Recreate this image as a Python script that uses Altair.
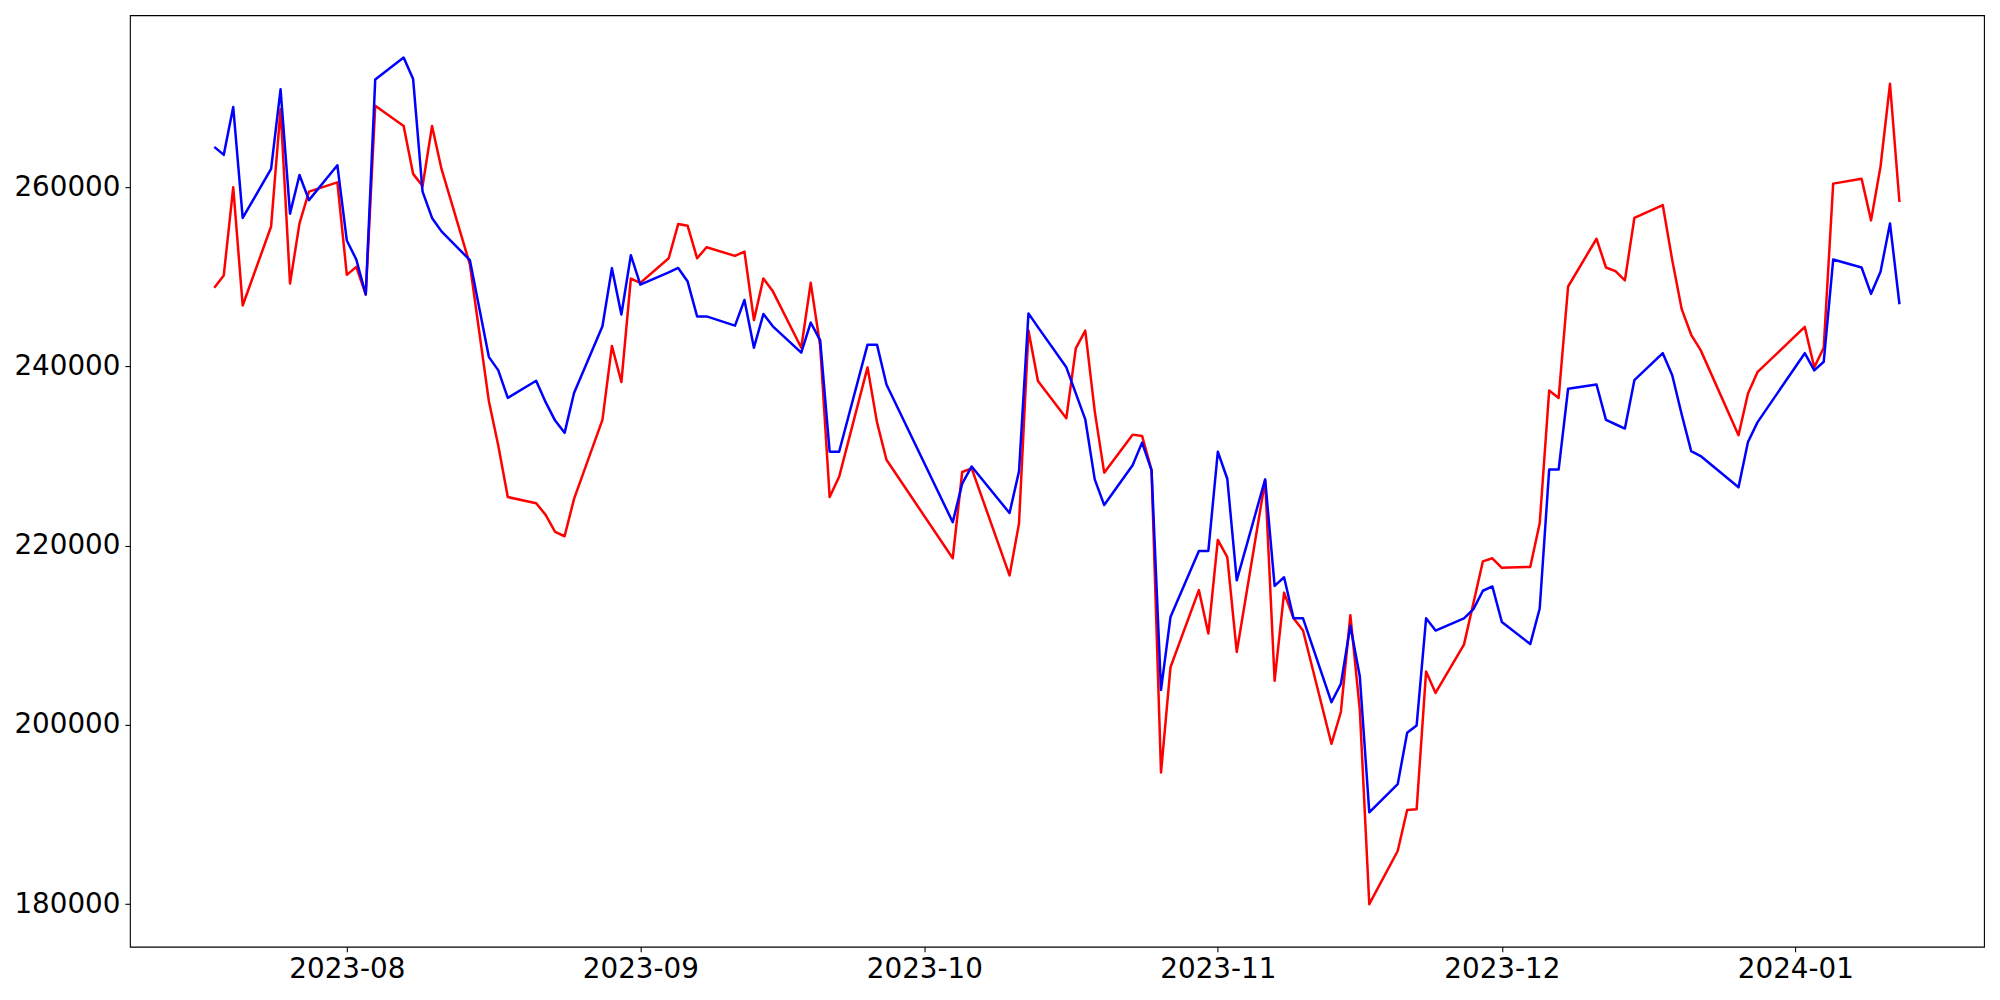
import altair as alt
import pandas as pd

dates = [
    "2023-07-18", "2023-07-19", "2023-07-20", "2023-07-21", "2023-07-24", "2023-07-25", "2023-07-26", "2023-07-27", "2023-07-28", "2023-07-31",
    "2023-08-01", "2023-08-02", "2023-08-03", "2023-08-04", "2023-08-07", "2023-08-08", "2023-08-09", "2023-08-10", "2023-08-11", "2023-08-14",
    "2023-08-16", "2023-08-17", "2023-08-18", "2023-08-21", "2023-08-22", "2023-08-23", "2023-08-24", "2023-08-25", "2023-08-28", "2023-08-29",
    "2023-08-30", "2023-08-31", "2023-09-01", "2023-09-04", "2023-09-05", "2023-09-06", "2023-09-07", "2023-09-08", "2023-09-11", "2023-09-12",
    "2023-09-13", "2023-09-14", "2023-09-15", "2023-09-18", "2023-09-19", "2023-09-20", "2023-09-21", "2023-09-22", "2023-09-25", "2023-09-26",
    "2023-09-27", "2023-10-04", "2023-10-05", "2023-10-06", "2023-10-10", "2023-10-11", "2023-10-12", "2023-10-13", "2023-10-16", "2023-10-17",
    "2023-10-18", "2023-10-19", "2023-10-20", "2023-10-23", "2023-10-24", "2023-10-25", "2023-10-26", "2023-10-27", "2023-10-30", "2023-10-31",
    "2023-11-01", "2023-11-02", "2023-11-03", "2023-11-06", "2023-11-07", "2023-11-08", "2023-11-09", "2023-11-10", "2023-11-13", "2023-11-14",
    "2023-11-15", "2023-11-16", "2023-11-17", "2023-11-20", "2023-11-21", "2023-11-22", "2023-11-23", "2023-11-24", "2023-11-27", "2023-11-28",
    "2023-11-29", "2023-11-30", "2023-12-01", "2023-12-04", "2023-12-05", "2023-12-06", "2023-12-07", "2023-12-08", "2023-12-11", "2023-12-12",
    "2023-12-13", "2023-12-14", "2023-12-15", "2023-12-18", "2023-12-19", "2023-12-20", "2023-12-21", "2023-12-22", "2023-12-26", "2023-12-27",
    "2023-12-28", "2024-01-02", "2024-01-03", "2024-01-04", "2024-01-05", "2024-01-08", "2024-01-09", "2024-01-10", "2024-01-11", "2024-01-12",
]

red_values = [
    248800, 250160, 260000, 246810, 255630, 268750, 249270, 255970, 259520, 260550,
    250230, 251120, 248040, 269090, 266830, 261500, 260140, 266830, 262050, 251390,
    236160, 231170, 225430, 224750, 223450, 221540, 221060, 225230, 234040, 242300,
    238270, 249820, 249340, 252080, 255900, 255700, 252080, 253310, 252350, 252830,
    245180, 249820, 248390, 242100, 249340, 242310, 225430, 227690, 239910, 233770,
    229600, 218600, 228230, 228640, 216690, 222490, 244010, 238380, 234240, 242030,
    244010, 235000, 228160, 232400, 232260, 228440, 194690, 206440, 215050, 210200,
    220650, 218740, 208150, 227280, 204930, 214770, 211900, 210540, 197900, 201450,
    212250, 201660, 180000, 185940, 190520, 190590, 205960, 203570, 208970, 213610,
    218260, 218600, 217540, 217640, 222500, 237320, 236500, 248930, 254260, 251050,
    250640, 249620, 256580, 258020, 251870, 246400, 243540, 241830, 232330, 236980,
    239370, 244420, 239910, 242100, 260410, 260960, 256310, 262320, 271550, 258360,
]

blue_values = [
    264510, 263620, 268950, 256580, 262050, 270930, 257060, 261370, 258570, 262460,
    254060, 251940, 248040, 272020, 274480, 272090, 259520, 256580, 255080, 251870,
    241080, 239570, 236500, 238410, 236020, 233970, 232600, 237040, 244490, 250980,
    245800, 252420, 249140, 250500, 251000, 249480, 245590, 245590, 244560, 247430,
    242100, 245860, 244490, 241550, 244900, 242920, 230490, 230490, 242440, 242440,
    238000, 222630, 226930, 228850, 223650, 228300, 245930, 244400, 239910, 237000,
    234110, 227410, 224540, 228980, 231510, 228440, 203910, 212040, 219420, 219420,
    230490, 227480, 216140, 227410, 215520, 216480, 211900, 211900, 202540, 204590,
    211080, 205410, 190250, 193390, 199130, 199950, 211900, 210540, 211900, 212930,
    214980, 215460, 211490, 209030, 213000, 228500, 228500, 237520, 238000, 234040,
    233560, 233080, 238480, 241490, 239030, 234650, 230560, 230010, 226520, 231580,
    233770, 241490, 239570, 240530, 251940, 251050, 248110, 250570, 255970, 246950,
]

y_ticks = [180000, 200000, 220000, 240000, 260000]
x_tick_months = [(2023, 8), (2023, 9), (2023, 10), (2023, 11), (2023, 12), (2024, 1)]

df = pd.DataFrame({"date": dates, "red": red_values, "blue": blue_values})

x_scale = alt.Scale(
    type="utc",
    domain=[
        alt.DateTime(year=2023, month=7, date=9, hours=2, minutes=10, utc=True),
        alt.DateTime(year=2024, month=1, date=20, hours=22, minutes=20, utc=True),
    ],
)
y_scale = alt.Scale(domain=[175250, 279200], nice=False, zero=False)

x_axis = alt.Axis(
    values=[alt.DateTime(year=y, month=m, date=1, utc=True) for y, m in x_tick_months],
    format="%Y-%m",
    title=None,
    grid=False,
    domain=False,
    tickSize=5,
    tickWidth=1.1,
    tickColor="black",
    labelPadding=4,
    labelFontSize=27.8,
    labelFont="DejaVu Sans",
    labelColor="black",
    labelFlush=False,
    labelOverlap=False,
)
y_axis = alt.Axis(
    values=y_ticks,
    format="d",
    title=None,
    grid=False,
    domain=False,
    tickSize=5,
    tickWidth=1.1,
    tickColor="black",
    labelPadding=5,
    labelFontSize=27.8,
    labelFont="DejaVu Sans",
    labelColor="black",
    labelFlush=False,
    labelOverlap=False,
)

base = alt.Chart(df)

red_line = base.mark_line(color="#ff0000", strokeWidth=2.5, strokeJoin="round").encode(
    x=alt.X("date:T", scale=x_scale, axis=x_axis),
    y=alt.Y("red:Q", scale=y_scale, axis=y_axis),
)
blue_line = base.mark_line(color="#0000ff", strokeWidth=2.5, strokeJoin="round").encode(
    x=alt.X("date:T", scale=x_scale, axis=x_axis),
    y=alt.Y("blue:Q", scale=y_scale, axis=y_axis),
)

chart = (
    alt.layer(red_line, blue_line)
    .properties(
        width=1855,
        height=932,
        padding={"left": 122, "top": 7, "right": 8, "bottom": 45},
        autosize=alt.AutoSizeParams(type="none"),
        background="white",
    )
    .configure_view(stroke="black", strokeWidth=1.1)
)

chart.save("out.html", embed_options={"renderer": "svg", "actions": False})
